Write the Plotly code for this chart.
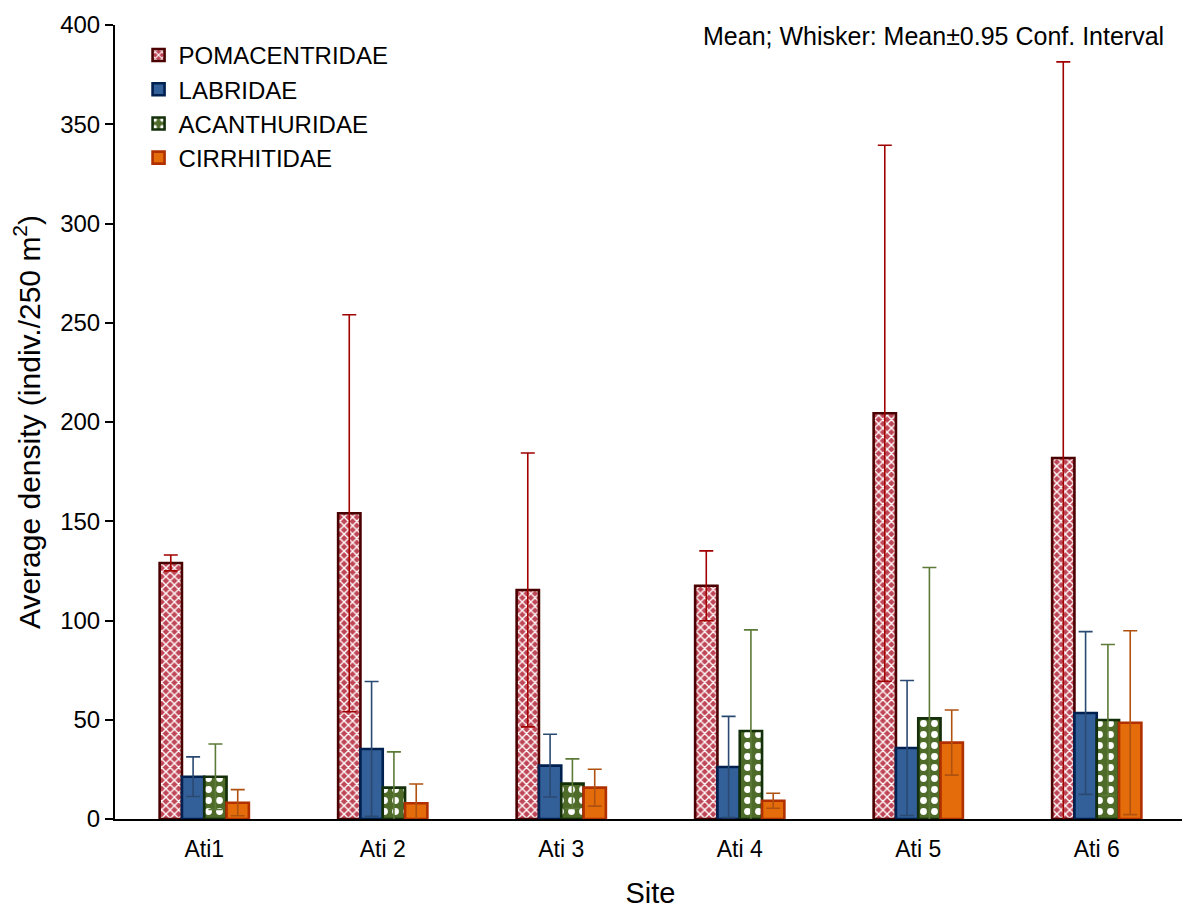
import plotly.graph_objects as go

sites = ["Ati1", "Ati 2", "Ati 3", "Ati 4", "Ati 5", "Ati 6"]

pom_mean = [129, 154, 115.4, 117.5, 204.4, 181.9]
pom_ci = [4, 100, 69, 17.6, 135, 199.5]
lab_mean = [21.3, 35.3, 26.9, 26.2, 35.8, 53.4]
lab_ci = [10, 34, 15.8, 25.5, 34, 41]
aca_mean = [21.3, 15.8, 17.8, 44.3, 50.7, 49.9]
aca_ci = [16.5, 18, 12.5, 51, 76, 38]
cir_mean = [8.2, 7.9, 15.8, 9.2, 38.5, 48.5]
cir_ci = [6.6, 9.7, 9.3, 3.8, 16.4, 46.3]

series = [
    ("POMACENTRIDAE", pom_mean, pom_ci),
    ("LABRIDAE", lab_mean, lab_ci),
    ("ACANTHURIDAE", aca_mean, aca_ci),
    ("CIRRHITIDAE", cir_mean, cir_ci),
]

styles = {
    "POMACENTRIDAE": dict(
        color="#bf4656", line=dict(color="#4a0000", width=2.6),
        pattern=dict(shape="x", fgcolor="white", bgcolor="#bf4656", size=6, solidity=0.4,
                     fillmode="replace"),
        err="#a00000"),
    "LABRIDAE": dict(
        color="#34609a", line=dict(color="#00204f", width=2.6), pattern=None, err="#2a4a72"),
    "ACANTHURIDAE": dict(
        color="#4f6b2a", line=dict(color="#14300a", width=2.6),
        pattern=dict(shape=".", fgcolor="white", bgcolor="#4f6b2a", size=11, solidity=0.3,
                     fillmode="replace"),
        err="#5c7a38"),
    "CIRRHITIDAE": dict(
        color="#e46c0a", line=dict(color="#b03000", width=2.6), pattern=None, err="#b0520f"),
}

fig = go.Figure()
for name, mean, ci in series:
    s = styles[name]
    marker = dict(color=s["color"], line=s["line"])
    if s["pattern"] is not None:
        marker["pattern"] = s["pattern"]
    fig.add_trace(go.Bar(
        name=name, x=sites, y=mean,
        marker=marker,
        error_y=dict(type="data", array=ci, visible=True, color=s["err"], thickness=1.6, width=7),
    ))

fig.update_layout(
    width=1182, height=901,
    barmode="group", bargap=0.5, bargroupgap=0,
    plot_bgcolor="white", paper_bgcolor="white",
    margin=dict(l=107, r=4, t=17, b=90),
    font=dict(family="Liberation Sans, Arial, sans-serif", size=24, color="black"),
    legend=dict(
        x=0.022, y=0.99, xanchor="left", yanchor="top",
        font=dict(size=24), bgcolor="rgba(0,0,0,0)", itemwidth=30,
    ),
    xaxis=dict(
        showline=True, linecolor="black", linewidth=2, ticks="",
        ticklabelstandoff=8,
        title=dict(text="Site", font=dict(size=29), standoff=22),
        tickfont=dict(size=23),
    ),
    yaxis=dict(
        range=[0, 400], dtick=50, showline=True, linecolor="black", linewidth=2,
        ticks="outside", ticklen=8, tickwidth=1.5, tickcolor="black",
        showgrid=False, zeroline=False, tickfont=dict(size=24),
        title=dict(text="Average density (indiv./250 m<sup>2</sup>)",
                   font=dict(size=30),
                   standoff=14),
    ),
    annotations=[dict(
        text="Mean; Whisker: Mean±0.95 Conf. Interval",
        xref="paper", yref="paper", x=0.981, y=0.986, xanchor="right", yanchor="middle",
        showarrow=False, font=dict(size=25),
    )],
)

fig.write_html("out.html")
